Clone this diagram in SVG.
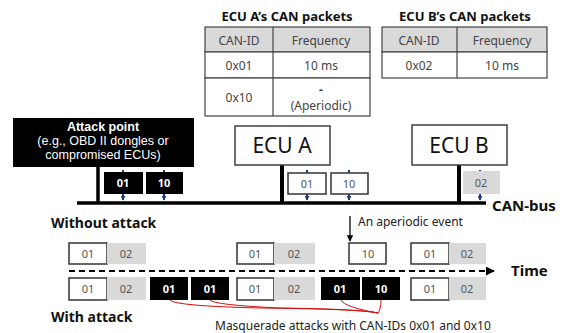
<svg xmlns="http://www.w3.org/2000/svg" width="566" height="333" viewBox="0 0 566 333">
<style>
text{font-family:"Noto Sans","Open Sans","DejaVu Sans",sans-serif}
.ttl{font-size:13px;font-weight:bold;fill:#111;text-anchor:middle}
.cell{font-size:12px;fill:#444;text-anchor:middle}
.tb{fill:#fff;stroke:#444;stroke-width:1.2}
.hd{fill:#d9d9d9;stroke:#444;stroke-width:1.2}
.ecu{fill:#fff;stroke:#333;stroke-width:1.4}
.ecut{font-size:21px;fill:#111;text-anchor:middle}
.pw{fill:#fff;stroke:#333;stroke-width:1.5}
.pg{fill:#d9d9d9}
.pb{fill:#000}
.pt{font-size:11px;fill:#555;text-anchor:middle}
.ptb{font-size:11px;fill:#fff;font-weight:bold;text-anchor:middle}
.lbl{font-size:14px;font-weight:bold;fill:#111}
.apt{font-family:"Liberation Sans",Arial,sans-serif;font-size:12.5px;fill:#fff;text-anchor:middle}
.blue{stroke:#1f3a7a;stroke-width:2;marker-end:url(#ba)}
</style>
<defs>
<marker id="ba" viewBox="0 0 6 6" refX="5" refY="3" markerWidth="2.5" markerHeight="2.5" orient="auto"><path d="M0,0 L6,3 L0,6 z" fill="#1f3a7a"/></marker>
<marker id="ka" viewBox="0 0 10 10" refX="9" refY="5" markerWidth="5" markerHeight="5" orient="auto"><path d="M0,0 L10,5 L0,10 z" fill="#000"/></marker>
</defs>

<g id="tableA">
<text class="ttl" x="287" y="21">ECU A’s CAN packets</text>
<rect class="hd" x="205" y="27" width="165" height="25"/>
<rect class="tb" x="205" y="52" width="165" height="26"/>
<rect class="tb" x="205" y="78" width="165" height="38"/>
<line x1="273" y1="27" x2="273" y2="116" stroke="#444" stroke-width="1.2"/>
<text class="cell" x="239" y="45">CAN-ID</text>
<text class="cell" x="321" y="45">Frequency</text>
<text class="cell" x="239" y="70">0x01</text>
<text class="cell" x="321" y="70">10 ms</text>
<text class="cell" x="239" y="102">0x10</text>
<text class="cell" x="321" y="94" font-weight="bold">-</text>
<text class="cell" x="321" y="110">(Aperiodic)</text>
</g>

<g id="tableB">
<text class="ttl" x="465" y="21">ECU B’s CAN packets</text>
<rect class="hd" x="382" y="27" width="165" height="25"/>
<rect class="tb" x="382" y="52" width="165" height="26"/>
<line x1="457" y1="27" x2="457" y2="78" stroke="#444" stroke-width="1.2"/>
<text class="cell" x="419" y="45">CAN-ID</text>
<text class="cell" x="502" y="45">Frequency</text>
<text class="cell" x="419" y="70">0x02</text>
<text class="cell" x="502" y="70">10 ms</text>
</g>

<g id="connectors">
<line x1="77" y1="203" x2="486" y2="203" stroke="#000" stroke-width="3.5"/>
<line x1="98" y1="166" x2="98" y2="203" stroke="#000" stroke-width="3.5"/>
<line x1="282" y1="165" x2="282" y2="203" stroke="#000" stroke-width="4"/>
<line x1="459" y1="165" x2="459" y2="203" stroke="#000" stroke-width="4"/>
<line class="blue" x1="123" y1="170" x2="123" y2="200"/>
<line class="blue" x1="164" y1="170" x2="164" y2="200"/>
<line class="blue" x1="307" y1="170" x2="307" y2="200"/>
<line class="blue" x1="349" y1="170" x2="349" y2="200"/>
<line class="blue" x1="480" y1="170" x2="480" y2="200"/>
<line x1="69" y1="271" x2="494" y2="271" stroke="#000" stroke-width="1.8" stroke-dasharray="6,4" marker-end="url(#ka)"/>
<line x1="350" y1="216" x2="350" y2="241" stroke="#000" stroke-width="1.3" marker-end="url(#ka)"/>
<g fill="none" stroke="#d01010" stroke-width="1">
<path d="M170,300 Q175,306 260,308 Q360,309 378,313"/>
<path d="M210,300 Q214,305 280,308 Q360,309 378,313"/>
<path d="M341,300 Q344,307 378,313"/>
<path d="M381,300 Q381,309 378,313"/>
</g>
</g>

<g id="attack-point">
<rect x="13" y="118" width="181" height="49" fill="#000"/>
<text class="apt" x="103" y="131" font-weight="bold">Attack point</text>
<text class="apt" x="103" y="145">(e.g., OBD II dongles or</text>
<text class="apt" x="103" y="159">compromised ECUs)</text>
<rect class="pb" x="104" y="172" width="39" height="22"/>
<text class="ptb" x="123" y="187">01</text>
<rect class="pb" x="146" y="172" width="37" height="22"/>
<text class="ptb" x="164" y="187">10</text>
</g>

<g id="ecuA">
<rect class="ecu" x="235" y="126" width="95" height="39"/>
<text class="ecut" x="282" y="153">ECU A</text>
<rect class="pw" x="288" y="173" width="38" height="21"/>
<text class="pt" x="307" y="188">01</text>
<rect class="pw" x="331" y="173" width="37" height="21"/>
<text class="pt" x="349" y="188">10</text>
</g>

<g id="ecuB">
<rect class="ecu" x="412" y="125" width="95" height="40"/>
<text class="ecut" x="459" y="153">ECU B</text>
<rect class="pg" x="463" y="171" width="37" height="23"/>
<text class="pt" x="481" y="187">02</text>
</g>

<g id="labels">
<text x="492" y="211" font-size="15" font-weight="bold" fill="#111">CAN-bus</text>
<text x="358" y="226" font-size="12" fill="#222">An aperiodic event</text>
<text class="lbl" x="51" y="228">Without attack</text>
<text x="511" y="276" font-size="15" font-weight="bold" fill="#111">Time</text>
<text class="lbl" x="51" y="322">With attack</text>
<text x="215" y="330" font-size="12" fill="#222">Masquerade attacks with CAN-IDs 0x01 and 0x10</text>
</g>

<g id="row-without">
<rect class="pw" x="69" y="243" width="38" height="21"/><text class="pt" x="88" y="258">01</text>
<rect class="pg" x="107" y="243" width="39" height="21"/><text class="pt" x="126" y="258">02</text>
<rect class="pw" x="237" y="243" width="37" height="21"/><text class="pt" x="255" y="258">01</text>
<rect class="pg" x="274" y="243" width="41" height="21"/><text class="pt" x="294" y="258">02</text>
<rect class="pw" x="349" y="243" width="37" height="21"/><text class="pt" x="368" y="258">10</text>
<rect class="pw" x="411" y="243" width="38" height="21"/><text class="pt" x="430" y="258">01</text>
<rect class="pg" x="449" y="243" width="37" height="21"/><text class="pt" x="467" y="258">02</text>
</g>

<g id="row-with">
<rect class="pw" x="69" y="278" width="38" height="22"/><text class="pt" x="88" y="293">01</text>
<rect class="pg" x="107" y="277" width="39" height="23"/><text class="pt" x="126" y="293">02</text>
<rect class="pb" x="150" y="277" width="38" height="23"/><text class="ptb" x="169" y="293">01</text>
<rect class="pb" x="191" y="277" width="38" height="23"/><text class="ptb" x="210" y="293">01</text>
<rect class="pw" x="237" y="278" width="37" height="22"/><text class="pt" x="255" y="293">01</text>
<rect class="pg" x="274" y="277" width="41" height="23"/><text class="pt" x="294" y="293">02</text>
<rect class="pb" x="321" y="277" width="39" height="23"/><text class="ptb" x="340" y="293">01</text>
<rect class="pb" x="362" y="277" width="38" height="23"/><text class="ptb" x="381" y="293">10</text>
<rect class="pw" x="411" y="278" width="38" height="22"/><text class="pt" x="430" y="293">01</text>
<rect class="pg" x="449" y="277" width="37" height="23"/><text class="pt" x="467" y="293">02</text>
</g>
</svg>
